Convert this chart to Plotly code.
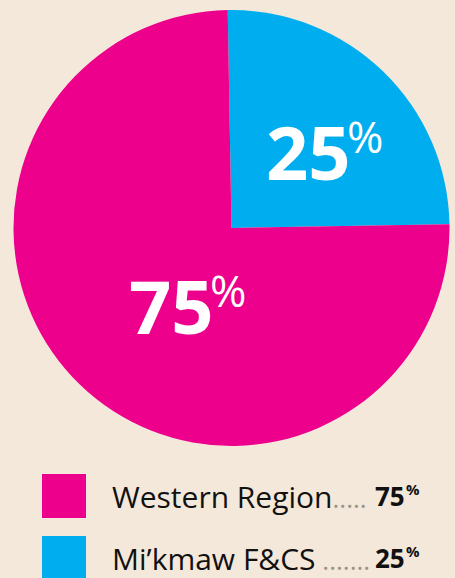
import plotly.graph_objects as go

labels = ["Western Region", "Mi\u2019kmaw F&CS"]
values = [75, 25]
colors = ["#EC008C", "#00AEEF"]
leaders = [".....", " ......."]

W, H = 455, 578
BG = "#F4E8DA"

def px(x):
    return x / W

def py(y):
    return 1 - y / H

# blue slice drawn first so it runs clockwise from 12 to 3 o'clock
fig = go.Figure(go.Pie(
    labels=labels[::-1], values=values[::-1], sort=False, direction="clockwise",
    rotation=-1, marker=dict(colors=colors[::-1], line=dict(width=0)),
    textinfo="none", hoverinfo="label+percent", showlegend=False,
    domain=dict(x=[px(13), px(450)], y=[py(446), py(10)]),
))

font = "Open Sans"
# big labels in slices: number + raised percent sign
big_pos = [(127, 305), (264, 151)]
for (x, y), v in zip(big_pos, values):
    fig.add_annotation(
        x=px(x), y=py(y), xref="paper", yref="paper", xanchor="left", yanchor="middle",
        text=f"<b>{v}</b>", showarrow=False, font=dict(family=font, size=74, color="white"),
    )
    fig.add_annotation(
        x=px(x + 81), y=py(y - 15), xref="paper", yref="paper", xanchor="left", yanchor="middle",
        text="%", showarrow=False, font=dict(family=font, size=44, color="white"),
    )

# custom legend
rows_y = [496, 558]
for lab, v, c, lead, y in zip(labels, values, colors, leaders, rows_y):
    fig.add_shape(type="rect", xref="paper", yref="paper",
                  x0=px(42), x1=px(86), y0=py(y + 22), y1=py(y - 22),
                  fillcolor=c, line=dict(width=0))
    fig.add_annotation(
        x=px(110), y=py(y), xref="paper", yref="paper", xanchor="left", yanchor="middle",
        text=f"{lab}<span style='color:#9A9489;font-size:26px'>{lead}</span>", showarrow=False,
        font=dict(family=font, size=30, color="#111111"),
    )
    fig.add_annotation(
        x=px(407), y=py(y), xref="paper", yref="paper", xanchor="right", yanchor="middle",
        text=f"<b>{v}</b>", showarrow=False,
        font=dict(family=font, size=26, color="#111111"),
    )
    fig.add_annotation(
        x=px(404), y=py(y - 7), xref="paper", yref="paper", xanchor="left", yanchor="middle",
        text="<b>%</b>", showarrow=False,
        font=dict(family=font, size=15, color="#111111"),
    )

fig.update_layout(
    width=W, height=H, margin=dict(l=0, r=0, t=0, b=0),
    paper_bgcolor=BG, plot_bgcolor=BG,
)
fig.write_html("out.html", config=dict(displayModeBar=False),
               post_script="document.body.style.margin='0';")
